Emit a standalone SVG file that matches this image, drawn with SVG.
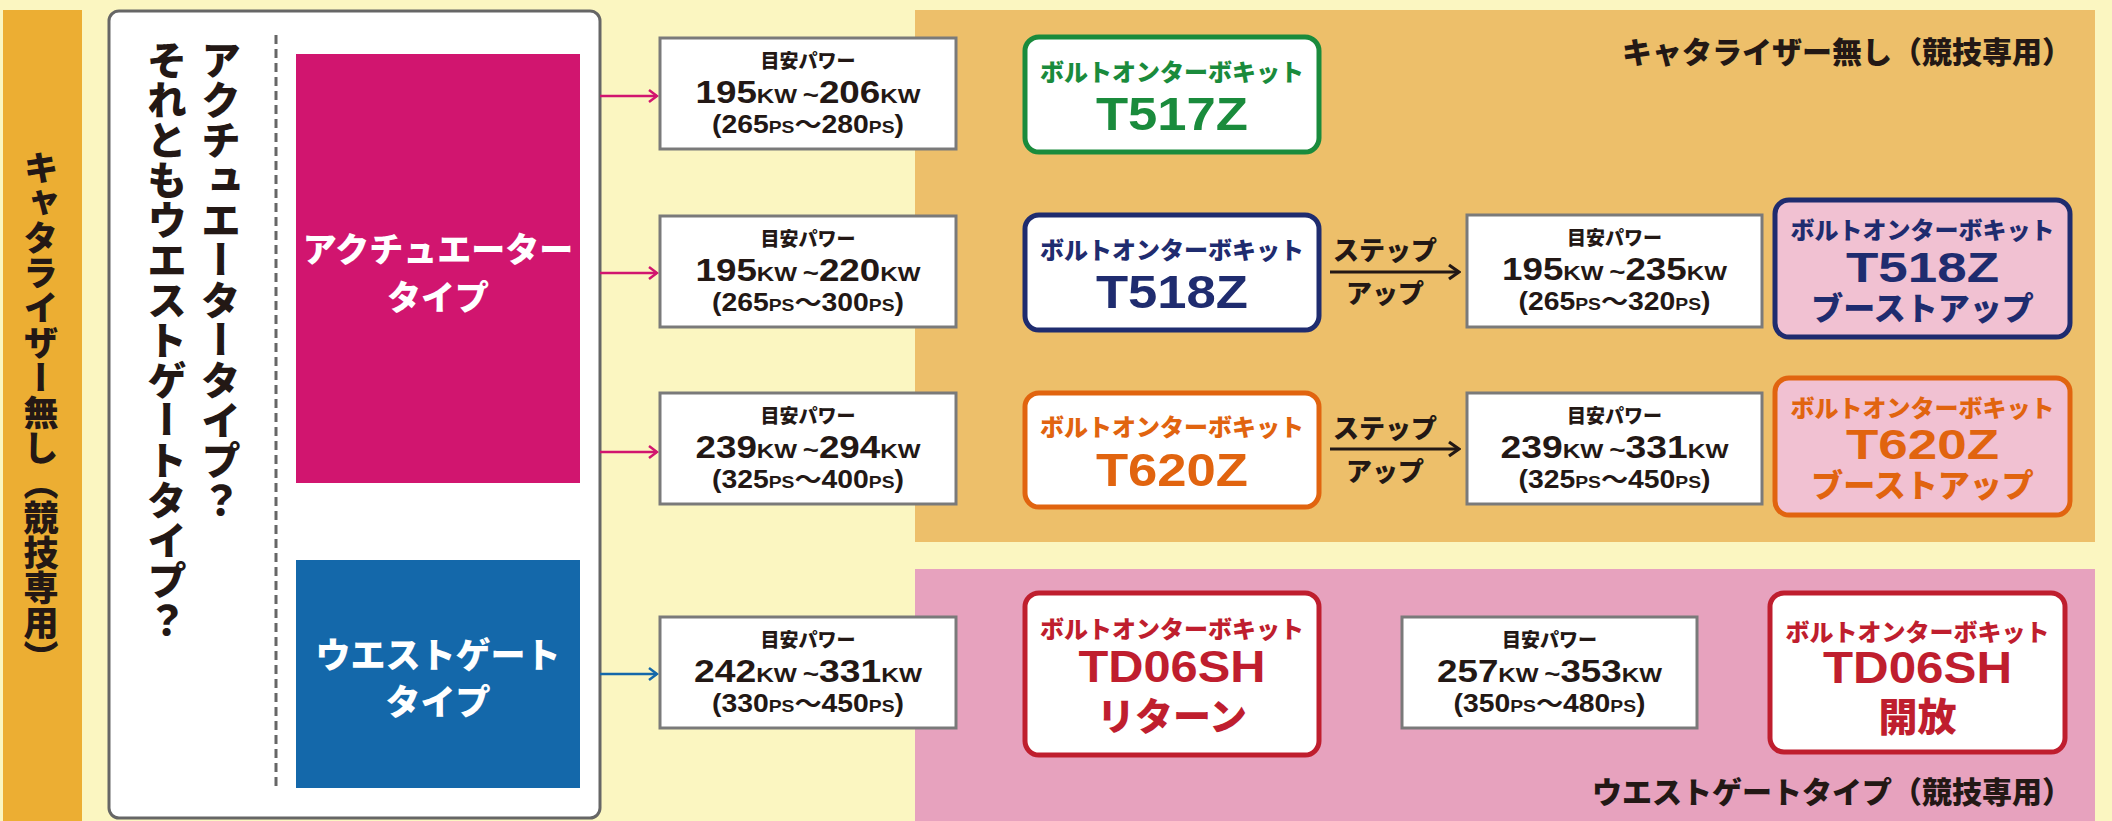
<svg xmlns="http://www.w3.org/2000/svg" width="2112" height="821" viewBox="0 0 2112 821">
<style>
.jp{font-family:"Noto Sans CJK JP","Noto Sans",sans-serif;font-weight:900}
.num{font-family:"Liberation Sans","Noto Sans CJK JP",sans-serif;font-weight:700}
.dark{fill:#231815}
.pbox{fill:#fff;stroke:#7a7a7a;stroke-width:3}
.kit{stroke-width:5}
.vt{writing-mode:vertical-rl}
</style>
<defs>
<marker id="arrPink" viewBox="0 0 12 16" refX="10" refY="8" markerWidth="12" markerHeight="16" markerUnits="userSpaceOnUse" orient="auto"><path d="M2,2 L10,8 L2,14" fill="none" stroke="#D1156F" stroke-width="2.5"/></marker>
<marker id="arrBlue" viewBox="0 0 12 16" refX="10" refY="8" markerWidth="12" markerHeight="16" markerUnits="userSpaceOnUse" orient="auto"><path d="M2,2 L10,8 L2,14" fill="none" stroke="#1468AA" stroke-width="2.5"/></marker>
<marker id="arrBlack" viewBox="0 0 14 18" refX="12" refY="9" markerWidth="14" markerHeight="18" markerUnits="userSpaceOnUse" orient="auto"><path d="M2,2 L12,9 L2,16" fill="none" stroke="#231815" stroke-width="3.2"/></marker>
</defs>

<rect width="2112" height="821" fill="#FBF6C1"/>

<g id="region-catalyzer">
<rect x="915" y="10" width="1180" height="532" fill="#EDBF6A"/>
<text class="jp dark" x="2072" y="63" font-size="30" text-anchor="end">キャタライザー無し（競技専用）</text>
</g>
<g id="region-wastegate">
<rect x="915" y="569" width="1180" height="252" fill="#E7A2BE"/>
<text class="jp dark" x="2072" y="803" font-size="30" text-anchor="end">ウエストゲートタイプ（競技専用）</text>
</g>

<g id="side-strip">
<rect x="3" y="10" width="79" height="811" fill="#ECAE33"/>
<text class="jp dark vt" x="41" y="413" font-size="35" text-anchor="middle">キャタライザー無し（競技専用）</text>
</g>

<g id="question-box">
<rect x="109" y="11" width="491" height="807" rx="10" fill="#fff" stroke="#666" stroke-width="3"/>
<text class="jp dark vt" x="221" y="40" font-size="40">アクチュエータータイプ？</text>
<text class="jp dark vt" x="167" y="40" font-size="40">それともウエストゲートタイプ？</text>
<line x1="276" y1="35" x2="276" y2="790" stroke="#666" stroke-width="3" stroke-dasharray="9 5"/>
</g>

<g id="actuator-type">
<rect x="296" y="54" width="284" height="429" fill="#D1156F"/>
<text class="jp" x="438" y="262" font-size="34" fill="#fff" text-anchor="middle">アクチュエーター</text>
<text class="jp" x="438" y="310" font-size="34" fill="#fff" text-anchor="middle">タイプ</text>
</g>

<g id="wastegate-type">
<rect x="296" y="560" width="284" height="228" fill="#1468AA"/>
<text class="jp" x="438" y="668" font-size="35" fill="#fff" text-anchor="middle">ウエストゲート</text>
<text class="jp" x="438" y="715" font-size="35" fill="#fff" text-anchor="middle">タイプ</text>
</g>

<g id="connectors">
<line x1="600" y1="96" x2="657" y2="96" stroke="#D1156F" stroke-width="2.5" marker-end="url(#arrPink)"/>
<line x1="600" y1="273" x2="657" y2="273" stroke="#D1156F" stroke-width="2.5" marker-end="url(#arrPink)"/>
<line x1="600" y1="452" x2="657" y2="452" stroke="#D1156F" stroke-width="2.5" marker-end="url(#arrPink)"/>
<line x1="600" y1="674" x2="657" y2="674" stroke="#1468AA" stroke-width="2.5" marker-end="url(#arrBlue)"/>
<line x1="1330" y1="272" x2="1459" y2="272" stroke="#231815" stroke-width="3.2" marker-end="url(#arrBlack)"/>
<line x1="1330" y1="449" x2="1459" y2="449" stroke="#231815" stroke-width="3.2" marker-end="url(#arrBlack)"/>
<text class="jp dark" x="1385" y="260" font-size="26" text-anchor="middle">ステップ</text>
<text class="jp dark" x="1385" y="303" font-size="26" text-anchor="middle">アップ</text>
<text class="jp dark" x="1385" y="438" font-size="26" text-anchor="middle">ステップ</text>
<text class="jp dark" x="1385" y="481" font-size="26" text-anchor="middle">アップ</text>
</g>

<g id="power-1">
<rect class="pbox" x="660" y="38" width="296" height="111"/>
<text class="jp dark" x="808" y="68" font-size="19" text-anchor="middle">目安パワー</text>
<text class="num dark" x="808" y="103" text-anchor="middle" textLength="225" lengthAdjust="spacingAndGlyphs"><tspan font-size="32">195</tspan><tspan font-size="21">KW</tspan><tspan font-size="24" dx="5">~</tspan><tspan font-size="32">206</tspan><tspan font-size="21">KW</tspan></text>
<text class="num dark" x="808" y="133" text-anchor="middle" textLength="192" lengthAdjust="spacingAndGlyphs"><tspan font-size="25">(265</tspan><tspan font-size="17">PS</tspan><tspan font-size="24">～</tspan><tspan font-size="25">280</tspan><tspan font-size="17">PS</tspan><tspan font-size="25">)</tspan></text>
</g>
<g id="power-2">
<rect class="pbox" x="660" y="216" width="296" height="111"/>
<text class="jp dark" x="808" y="246" font-size="19" text-anchor="middle">目安パワー</text>
<text class="num dark" x="808" y="281" text-anchor="middle" textLength="225" lengthAdjust="spacingAndGlyphs"><tspan font-size="32">195</tspan><tspan font-size="21">KW</tspan><tspan font-size="24" dx="5">~</tspan><tspan font-size="32">220</tspan><tspan font-size="21">KW</tspan></text>
<text class="num dark" x="808" y="311" text-anchor="middle" textLength="192" lengthAdjust="spacingAndGlyphs"><tspan font-size="25">(265</tspan><tspan font-size="17">PS</tspan><tspan font-size="24">～</tspan><tspan font-size="25">300</tspan><tspan font-size="17">PS</tspan><tspan font-size="25">)</tspan></text>
</g>
<g id="power-3">
<rect class="pbox" x="660" y="393" width="296" height="111"/>
<text class="jp dark" x="808" y="423" font-size="19" text-anchor="middle">目安パワー</text>
<text class="num dark" x="808" y="458" text-anchor="middle" textLength="225" lengthAdjust="spacingAndGlyphs"><tspan font-size="32">239</tspan><tspan font-size="21">KW</tspan><tspan font-size="24" dx="5">~</tspan><tspan font-size="32">294</tspan><tspan font-size="21">KW</tspan></text>
<text class="num dark" x="808" y="488" text-anchor="middle" textLength="192" lengthAdjust="spacingAndGlyphs"><tspan font-size="25">(325</tspan><tspan font-size="17">PS</tspan><tspan font-size="24">～</tspan><tspan font-size="25">400</tspan><tspan font-size="17">PS</tspan><tspan font-size="25">)</tspan></text>
</g>
<g id="power-4">
<rect class="pbox" x="660" y="617" width="296" height="111"/>
<text class="jp dark" x="808" y="647" font-size="19" text-anchor="middle">目安パワー</text>
<text class="num dark" x="808" y="682" text-anchor="middle" textLength="228" lengthAdjust="spacingAndGlyphs"><tspan font-size="32">242</tspan><tspan font-size="21">KW</tspan><tspan font-size="24" dx="5">~</tspan><tspan font-size="32">331</tspan><tspan font-size="21">KW</tspan></text>
<text class="num dark" x="808" y="712" text-anchor="middle" textLength="192" lengthAdjust="spacingAndGlyphs"><tspan font-size="25">(330</tspan><tspan font-size="17">PS</tspan><tspan font-size="24">～</tspan><tspan font-size="25">450</tspan><tspan font-size="17">PS</tspan><tspan font-size="25">)</tspan></text>
</g>
<g id="power-5">
<rect class="pbox" x="1467" y="215" width="295" height="112"/>
<text class="jp dark" x="1614.5" y="245" font-size="19" text-anchor="middle">目安パワー</text>
<text class="num dark" x="1614.5" y="280" text-anchor="middle" textLength="225" lengthAdjust="spacingAndGlyphs"><tspan font-size="32">195</tspan><tspan font-size="21">KW</tspan><tspan font-size="24" dx="5">~</tspan><tspan font-size="32">235</tspan><tspan font-size="21">KW</tspan></text>
<text class="num dark" x="1614.5" y="310" text-anchor="middle" textLength="192" lengthAdjust="spacingAndGlyphs"><tspan font-size="25">(265</tspan><tspan font-size="17">PS</tspan><tspan font-size="24">～</tspan><tspan font-size="25">320</tspan><tspan font-size="17">PS</tspan><tspan font-size="25">)</tspan></text>
</g>
<g id="power-6">
<rect class="pbox" x="1467" y="393" width="295" height="111"/>
<text class="jp dark" x="1614.5" y="423" font-size="19" text-anchor="middle">目安パワー</text>
<text class="num dark" x="1614.5" y="458" text-anchor="middle" textLength="228" lengthAdjust="spacingAndGlyphs"><tspan font-size="32">239</tspan><tspan font-size="21">KW</tspan><tspan font-size="24" dx="5">~</tspan><tspan font-size="32">331</tspan><tspan font-size="21">KW</tspan></text>
<text class="num dark" x="1614.5" y="488" text-anchor="middle" textLength="192" lengthAdjust="spacingAndGlyphs"><tspan font-size="25">(325</tspan><tspan font-size="17">PS</tspan><tspan font-size="24">～</tspan><tspan font-size="25">450</tspan><tspan font-size="17">PS</tspan><tspan font-size="25">)</tspan></text>
</g>
<g id="power-7">
<rect class="pbox" x="1402" y="617" width="295" height="111"/>
<text class="jp dark" x="1549.5" y="647" font-size="19" text-anchor="middle">目安パワー</text>
<text class="num dark" x="1549.5" y="682" text-anchor="middle" textLength="225" lengthAdjust="spacingAndGlyphs"><tspan font-size="32">257</tspan><tspan font-size="21">KW</tspan><tspan font-size="24" dx="5">~</tspan><tspan font-size="32">353</tspan><tspan font-size="21">KW</tspan></text>
<text class="num dark" x="1549.5" y="712" text-anchor="middle" textLength="192" lengthAdjust="spacingAndGlyphs"><tspan font-size="25">(350</tspan><tspan font-size="17">PS</tspan><tspan font-size="24">～</tspan><tspan font-size="25">480</tspan><tspan font-size="17">PS</tspan><tspan font-size="25">)</tspan></text>
</g>

<g id="kit-t517z">
<rect class="kit" x="1025" y="37" width="294" height="115" rx="14" fill="#fff" stroke="#1A8B3C"/>
<text class="jp" x="1172" y="81" font-size="24" fill="#1A8B3C" text-anchor="middle">ボルトオンターボキット</text>
<text class="num" x="1172" y="130" font-size="46" fill="#1A8B3C" text-anchor="middle" textLength="152" lengthAdjust="spacingAndGlyphs">T517Z</text>
</g>
<g id="kit-t518z">
<rect class="kit" x="1025" y="215" width="294" height="115" rx="14" fill="#fff" stroke="#1F2C6F"/>
<text class="jp" x="1172" y="259" font-size="24" fill="#1F2C6F" text-anchor="middle">ボルトオンターボキット</text>
<text class="num" x="1172" y="308" font-size="46" fill="#1F2C6F" text-anchor="middle" textLength="152" lengthAdjust="spacingAndGlyphs">T518Z</text>
</g>
<g id="kit-t620z">
<rect class="kit" x="1025" y="393" width="294" height="114" rx="14" fill="#fff" stroke="#E1640F"/>
<text class="jp" x="1172" y="436" font-size="24" fill="#E1640F" text-anchor="middle">ボルトオンターボキット</text>
<text class="num" x="1172" y="486" font-size="46" fill="#E1640F" text-anchor="middle" textLength="152" lengthAdjust="spacingAndGlyphs">T620Z</text>
</g>
<g id="kit-td06sh-return">
<rect class="kit" x="1025" y="593" width="294" height="162" rx="14" fill="#fff" stroke="#BF1E2E"/>
<text class="jp" x="1172" y="638" font-size="24" fill="#BF1E2E" text-anchor="middle">ボルトオンターボキット</text>
<text class="num" x="1172" y="682" font-size="45" fill="#BF1E2E" text-anchor="middle" textLength="187" lengthAdjust="spacingAndGlyphs">TD06SH</text>
<text class="jp" x="1172" y="730" font-size="38" fill="#BF1E2E" text-anchor="middle">リターン</text>
</g>
<g id="kit-t518z-boost">
<rect class="kit" x="1775" y="200" width="295" height="137" rx="14" fill="#F1C1D2" stroke="#1F2C6F"/>
<text class="jp" x="1922.5" y="239" font-size="24" fill="#1F2C6F" text-anchor="middle">ボルトオンターボキット</text>
<text class="num" x="1922.5" y="282" font-size="42" fill="#1F2C6F" text-anchor="middle" textLength="153" lengthAdjust="spacingAndGlyphs">T518Z</text>
<text class="jp" x="1922.5" y="320" font-size="32" fill="#1F2C6F" text-anchor="middle">ブーストアップ</text>
</g>
<g id="kit-t620z-boost">
<rect class="kit" x="1775" y="378" width="295" height="137" rx="14" fill="#F1C1D2" stroke="#E1640F"/>
<text class="jp" x="1922.5" y="417" font-size="24" fill="#E1640F" text-anchor="middle">ボルトオンターボキット</text>
<text class="num" x="1922.5" y="459" font-size="42" fill="#E1640F" text-anchor="middle" textLength="153" lengthAdjust="spacingAndGlyphs">T620Z</text>
<text class="jp" x="1922.5" y="497" font-size="32" fill="#E1640F" text-anchor="middle">ブーストアップ</text>
</g>
<g id="kit-td06sh-open">
<rect class="kit" x="1770" y="593" width="295" height="159" rx="14" fill="#fff" stroke="#BF1E2E"/>
<text class="jp" x="1917.5" y="641" font-size="24" fill="#BF1E2E" text-anchor="middle">ボルトオンターボキット</text>
<text class="num" x="1917.5" y="683" font-size="45" fill="#BF1E2E" text-anchor="middle" textLength="189" lengthAdjust="spacingAndGlyphs">TD06SH</text>
<text class="jp" x="1917.5" y="731" font-size="39" fill="#BF1E2E" text-anchor="middle">開放</text>
</g>
</svg>
